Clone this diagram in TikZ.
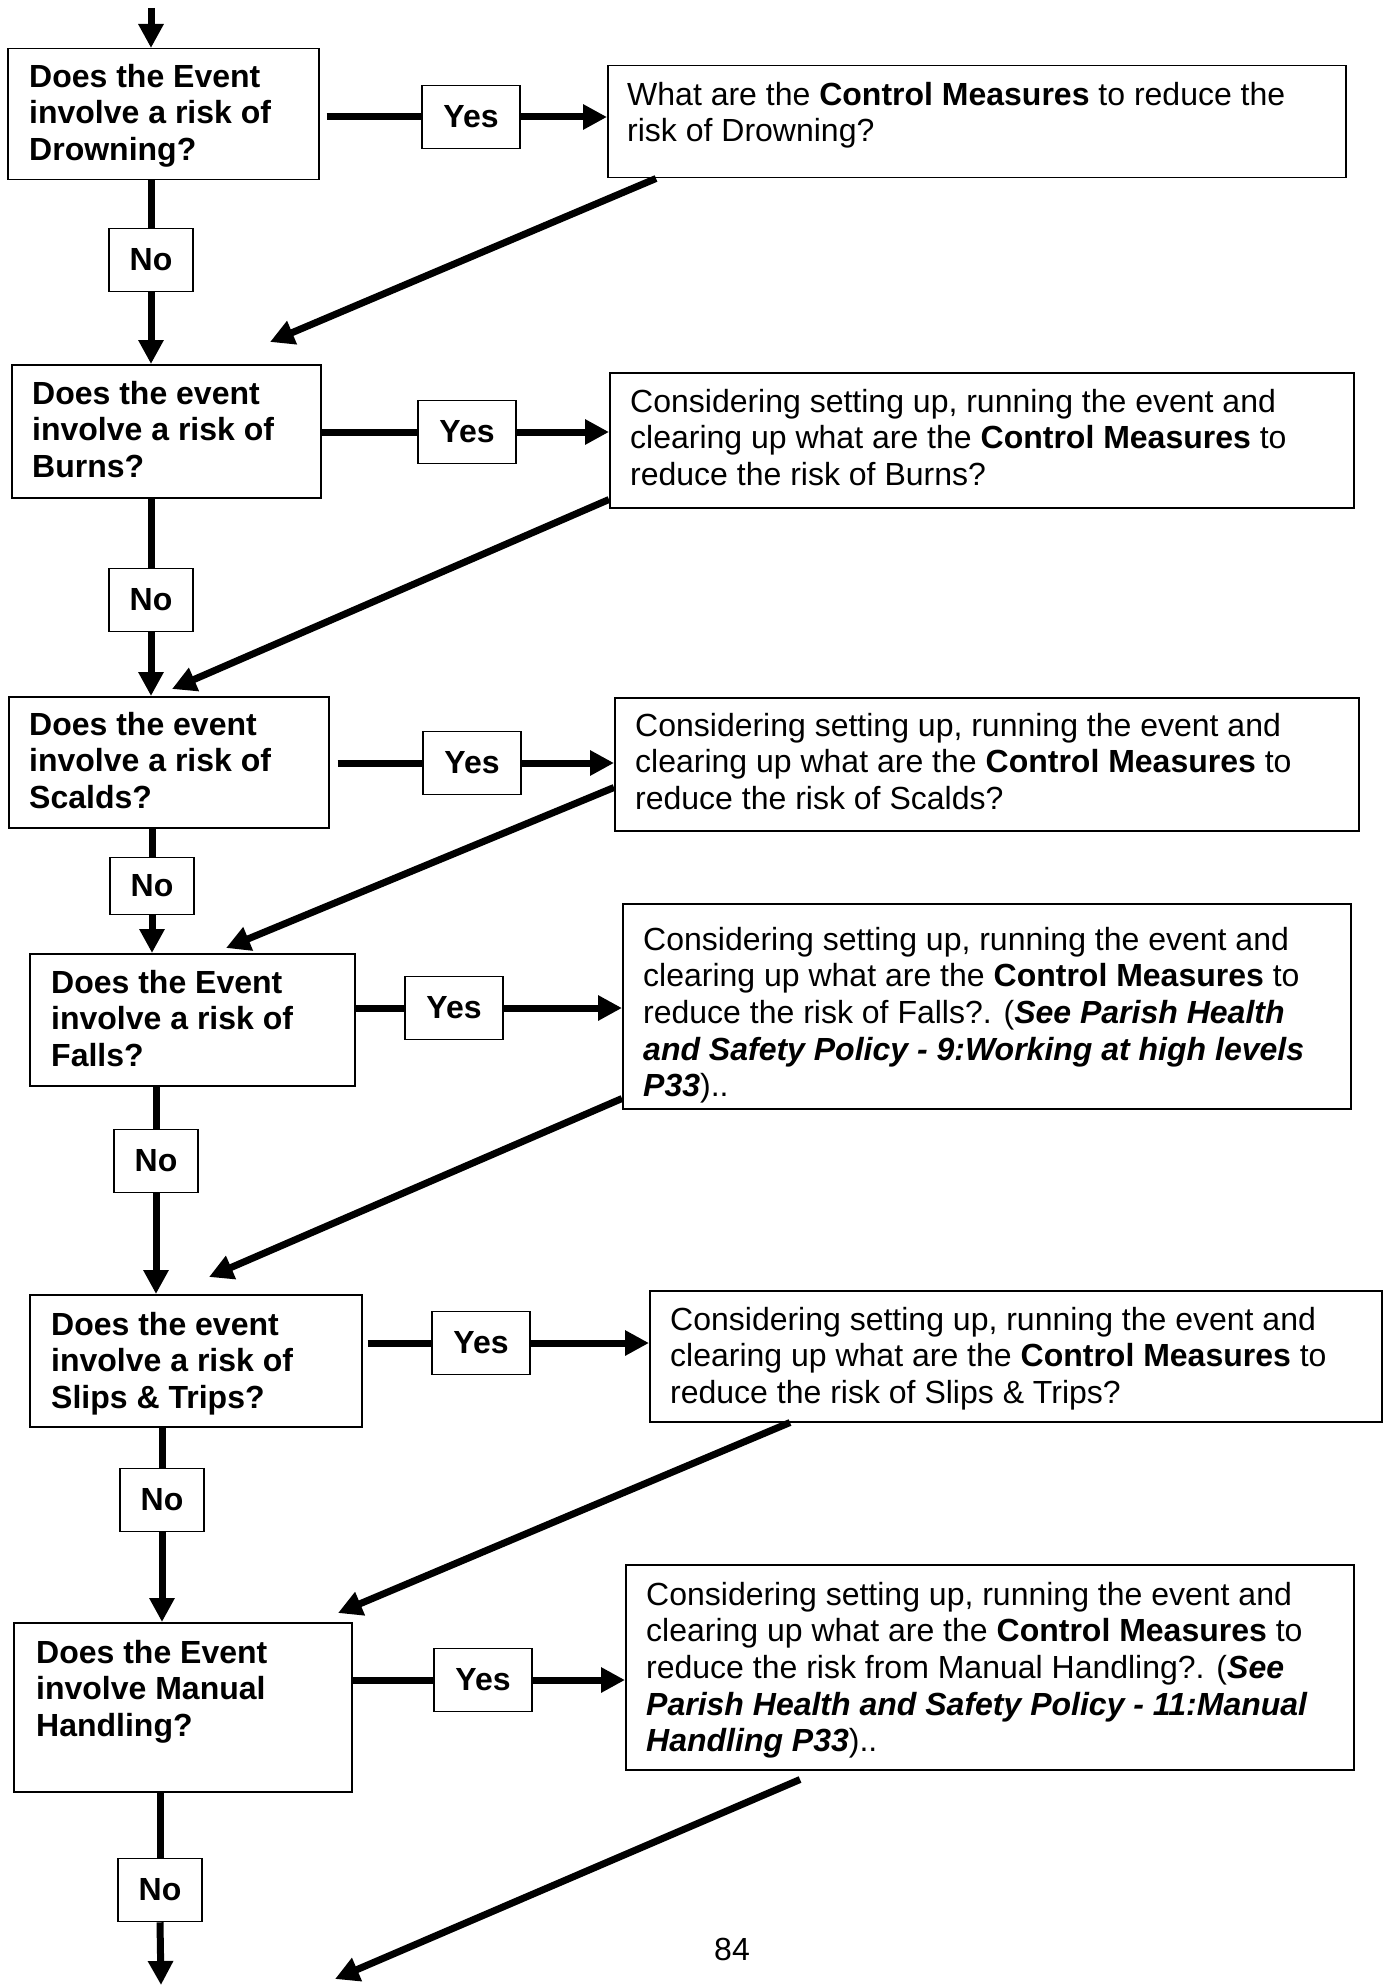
\documentclass[tikz,border=0pt]{standalone}
\usepackage{fontspec}
\setmainfont{Liberation Sans}
\usetikzlibrary{arrows.meta,calc}
\begin{document}
\begin{tikzpicture}[x=1pt,y=-1pt,
 frame/.style={draw,line width=1.5pt,anchor=north west,inner sep=0pt},
 qtxt/.style={anchor=north west,inner sep=0pt,align=left,font=\bfseries\fontsize{32}{36.7}\selectfont},
 atxt/.style={anchor=north west,inner sep=0pt,align=left,font=\fontsize{32}{36.6}\selectfont},
 tag/.style={draw,line width=1.5pt,inner sep=0pt,minimum width=98pt,minimum height=63pt,font=\bfseries\fontsize{32}{36.7}\selectfont},
 notag/.style={tag,minimum width=84pt},
 link/.style={line width=7pt},
 arr/.style={line width=7pt,-{Triangle[length=24pt,width=24pt]}},
]
\useasboundingbox[fill=white] (0,0) rectangle (1384,1985);

% ---------- Row 1: Drowning
\node[frame,minimum width=311pt,minimum height=131pt] (q1) at (7,48) {};
\node[qtxt] (q1t) at (29,62) {\rule{0pt}{25pt}Does the Event\\involve a risk of\\Drowning?};
\node[frame,minimum width=738pt,minimum height=112pt] (a1) at (607,65) {};
\node[atxt] (a1t) at (627,80) {\rule{0pt}{25pt}What are the \textbf{Control Measures} to reduce the\\risk of Drowning?};
\node[tag] (y1) at (471,117) {Yes};
\node[notag] (n1) at (151,260) {No};

% ---------- Row 2: Burns
\node[frame,minimum width=309pt,minimum height=133pt] (q2) at (11,364) {};
\node[qtxt] (q2t) at (32,379) {\rule{0pt}{25pt}Does the event\\involve a risk of\\Burns?};
\node[frame,minimum width=744pt,minimum height=135pt] (a2) at (609,372) {};
\node[atxt] (a2t) at (630,387) {\rule{0pt}{25pt}Considering setting up, running the event and\\clearing up what are the \textbf{Control Measures} to\\reduce the risk of Burns?};
\node[tag] (y2) at (467,432) {Yes};
\node[notag] (n2) at (151,600) {No};

% ---------- Row 3: Scalds
\node[frame,minimum width=320pt,minimum height=131pt] (q3) at (8,696) {};
\node[qtxt] (q3t) at (29,710) {\rule{0pt}{25pt}Does the event\\involve a risk of\\Scalds?};
\node[frame,minimum width=744pt,minimum height=133pt] (a3) at (614,697) {};
\node[atxt] (a3t) at (635,711) {\rule{0pt}{25pt}Considering setting up, running the event and\\clearing up what are the \textbf{Control Measures} to\\reduce the risk of Scalds?};
\node[tag] (y3) at (472,763) {Yes};
\node[notag,minimum height=57pt] (n3) at (152,886) {No};

% ---------- Row 4: Falls
\node[frame,minimum width=325pt,minimum height=132pt] (q4) at (29,953) {};
\node[qtxt] (q4t) at (51,968) {\rule{0pt}{25pt}Does the Event\\involve a risk of\\Falls?};
\node[frame,minimum width=728pt,minimum height=205pt] (a4) at (622,903) {};
\node[atxt] (a4t) at (643,925) {\rule{0pt}{25pt}Considering setting up, running the event and\\clearing up what are the \textbf{Control Measures} to\\reduce the risk of Falls?. (\textbf{\textit{See Parish Health}}\\\textbf{\textit{and Safety Policy - 9:Working at high levels}}\\\textbf{\textit{P33}})..};
\node[tag] (y4) at (454,1008) {Yes};
\node[notag] (n4) at (156,1161) {No};

% ---------- Row 5: Slips & Trips
\node[frame,minimum width=332pt,minimum height=132pt] (q5) at (29,1294) {};
\node[qtxt] (q5t) at (51,1310) {\rule{0pt}{25pt}Does the event\\involve a risk of\\Slips \& Trips?};
\node[frame,minimum width=732pt,minimum height=131pt] (a5) at (649,1290) {};
\node[atxt] (a5t) at (670,1305) {\rule{0pt}{25pt}Considering setting up, running the event and\\clearing up what are the \textbf{Control Measures} to\\reduce the risk of Slips \& Trips?};
\node[tag] (y5) at (481,1343) {Yes};
\node[notag] (n5) at (162,1500) {No};

% ---------- Row 6: Manual Handling
\node[frame,minimum width=338pt,minimum height=169pt] (q6) at (13,1622) {};
\node[qtxt] (q6t) at (36,1638) {\rule{0pt}{25pt}Does the Event\\involve Manual\\Handling?};
\node[frame,minimum width=728pt,minimum height=205pt] (a6) at (625,1564) {};
\node[atxt] (a6t) at (646,1580) {\rule{0pt}{25pt}Considering setting up, running the event and\\clearing up what are the \textbf{Control Measures} to\\reduce the risk from Manual Handling?. (\textbf{\textit{See}}\\\textbf{\textit{Parish Health and Safety Policy - 11:Manual}}\\\textbf{\textit{Handling P33}})..};
\node[tag] (y6) at (483,1680) {Yes};
\node[notag] (n6) at (160,1890) {No};

% page number
\node[anchor=base,inner sep=0pt,font=\fontsize{32}{36.7}\selectfont] (pg) at (732,1960) {84};

% ---------- free ends
\coordinate (s0) at (151,8);
\coordinate (s7) at (161,1985);
\coordinate (t1) at (270,342);
\coordinate (t2) at (172,689);
\coordinate (t3) at (226,948);
\coordinate (t4) at (209,1277);
\coordinate (t5) at (338,1613);
\coordinate (t6) at (335,1979);

% ---------- connectors
\draw[arr] (s0) -- (s0 |- q1.north);

\draw[link] ($(q1.east |- y1)+(7,0)$) -- (y1.west);
\draw[arr] (y1.east) -- (a1.west |- y1);
\draw[link] (q1.south -| n1) -- (n1.north);
\draw[arr] (n1.south) -- (q2.north -| n1);
\draw[arr] ($(a1.south west)+(49,0)$) -- (t1);

\draw[link] (q2.east |- y2) -- (y2.west);
\draw[arr] (y2.east) -- (a2.west |- y2);
\draw[link] (q2.south -| n2) -- (n2.north);
\draw[arr] (n2.south) -- (q3.north -| n2);
\draw[arr] ($(a2.south west)+(0,-9)$) -- (t2);

\draw[link] ($(q3.east |- y3)+(8,0)$) -- (y3.west);
\draw[arr] (y3.east) -- (a3.west |- y3);
\draw[link] (q3.south -| n3) -- (n3.north);
\draw[arr] (n3.south) -- (q4.north -| n3);
\draw[arr] ($(a3.south west)+(0,-44)$) -- (t3);

\draw[link] (q4.east |- y4) -- (y4.west);
\draw[arr] (y4.east) -- (a4.west |- y4);
\draw[link] (q4.south -| n4) -- (n4.north);
\draw[arr] (n4.south) -- (q5.north -| n4);
\draw[arr] ($(a4.south west)+(0,-11)$) -- (t4);

\draw[link] ($(q5.east |- y5)+(5,0)$) -- (y5.west);
\draw[arr] (y5.east) -- (a5.west |- y5);
\draw[link] (q5.south -| n5) -- (n5.north);
\draw[arr] (n5.south) -- (q6.north -| n5);
\draw[arr] ($(a5.south west)+(141,0)$) -- (t5);

\draw[link] (q6.east |- y6) -- (y6.west);
\draw[arr] (y6.east) -- (a6.west |- y6);
\draw[link] (q6.south -| n6) -- (n6.north);
\draw[arr] (n6.south) -- (s7);
\draw[arr] ($(a6.south west)+(175,9)$) -- (t6);
\end{tikzpicture}
\end{document}
